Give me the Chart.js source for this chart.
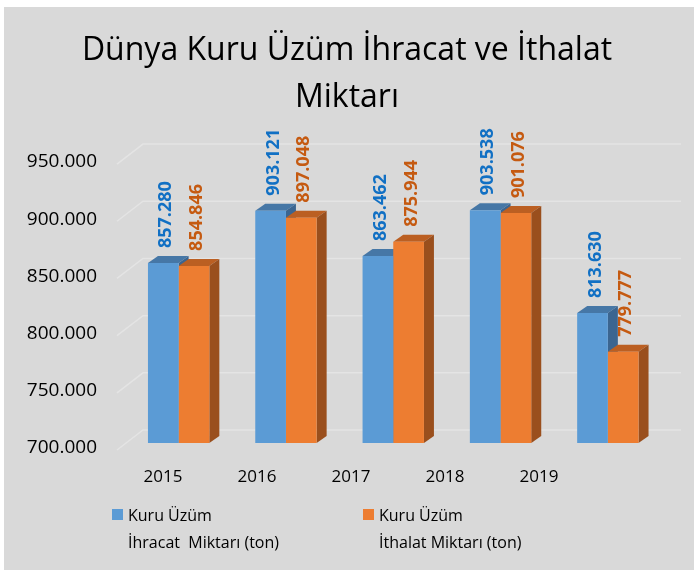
<!DOCTYPE html>
<html>
<head>
<meta charset="utf-8">
<script src="https://cdn.jsdelivr.net/npm/chart.js@4.4.1/dist/chart.umd.min.js"></script>
<style>
  html, body { margin: 0; padding: 0; background: #fff; }
  canvas { display: block; }
</style>
</head>
<body>
<canvas id="grafik" width="694" height="570"></canvas>
<script>
// Veriler
const yillar = ['2015', '2016', '2017', '2018', '2019'];
const ihracat = [857280, 903121, 863462, 903538, 813630];
const ithalat = [854846, 897048, 875944, 901076, 779777];
const eksenDegerleri = [700000, 750000, 800000, 850000, 900000, 950000];
const seriAdlari = [
    ['Kuru Üzüm', 'İhracat  Miktarı (ton)'],
    ['Kuru Üzüm', 'İthalat Miktarı (ton)']
];

const FONT = "'Open Sans', sans-serif";
const renkler = {
    on: ['#5b9bd5', '#ed7d31'],
    ust: ['#4677a6', '#bb5f22'],
    yan: ['#3b6590', '#9a4f1d'],
    yazi: ['#1170c4', '#c55a11']
};
const DX = 10, DY = 7;

function noktali(v) {
    return String(v).replace(/\B(?=(\d{3})+(?!\d))/g, '.');
}

// 3B görünüm: ızgara, üst ve yan yüzler, etiketler
const bar3d = {
    id: 'bar3d',
    beforeDraw(chart) {
        const ctx = chart.ctx;
        ctx.save();
        ctx.fillStyle = '#ffffff';
        ctx.fillRect(0, 0, chart.width, chart.height);
        ctx.fillStyle = '#d9d9d9';
        ctx.fillRect(4, 7, chart.width - 4, chart.height - 7);
        ctx.restore();
    },
    beforeDatasetsDraw(chart) {
        const ctx = chart.ctx;
        const y = chart.scales.y;
        const area = chart.chartArea;
        const taban = y.getPixelForValue(eksenDegerleri[0]);
        ctx.save();
        ctx.strokeStyle = '#e4e4e4';
        ctx.lineWidth = 1.5;
        eksenDegerleri.forEach(v => {
            const py = y.getPixelForValue(v);
            ctx.beginPath();
            ctx.moveTo(area.left - 8, py + 7);
            ctx.lineTo(area.left + 18, py - 13);
            ctx.lineTo(681, py - 13);
            ctx.stroke();
        });
        chart.data.datasets.forEach((ds, i) => {
            chart.getDatasetMeta(i).data.forEach(bar => {
                const l = bar.x - bar.width / 2, r = bar.x + bar.width / 2;
                const b = Math.min(bar.base, taban);
                ctx.fillStyle = renkler.ust[i];
                ctx.beginPath();
                ctx.moveTo(l, bar.y);
                ctx.lineTo(l + DX, bar.y - DY);
                ctx.lineTo(r + DX, bar.y - DY);
                ctx.lineTo(r, bar.y);
                ctx.closePath();
                ctx.fill();
                ctx.fillStyle = renkler.yan[i];
                ctx.beginPath();
                ctx.moveTo(r, bar.y);
                ctx.lineTo(r + DX, bar.y - DY);
                ctx.lineTo(r + DX, b - DY);
                ctx.lineTo(r, b);
                ctx.closePath();
                ctx.fill();
            });
        });
        ctx.restore();
    },
    afterDatasetsDraw(chart) {
        const ctx = chart.ctx;
        ctx.save();
        ctx.font = 'bold 18px ' + FONT;
        ctx.textAlign = 'left';
        ctx.textBaseline = 'middle';
        chart.data.datasets.forEach((ds, i) => {
            chart.getDatasetMeta(i).data.forEach((bar, j) => {
                ctx.save();
                ctx.translate(bar.x + 3, bar.y - 15);
                ctx.rotate(-Math.PI / 2);
                ctx.fillStyle = renkler.yazi[i];
                ctx.fillText(noktali(ds.data[j]), 0, 0);
                ctx.restore();
            });
        });
        ctx.restore();
    },
    afterDraw(chart) {
        const ctx = chart.ctx;
        const x = chart.scales.x;
        ctx.save();
        // yıl etiketleri (perspektifli ön kenar)
        ctx.font = '17px ' + FONT;
        ctx.fillStyle = '#000';
        ctx.textAlign = 'center';
        ctx.textBaseline = 'middle';
        yillar.forEach((yil, j) => {
            const px = 52 + (x.getPixelForValue(j) - 52) * 0.876;
            ctx.fillText(yil, px, 477);
        });
        // lejant
        ctx.font = '16px ' + FONT;
        ctx.textAlign = 'left';
        const lx = [112, 363];
        seriAdlari.forEach((satirlar, i) => {
            ctx.fillStyle = renkler.on[i];
            ctx.fillRect(lx[i], 509, 11, 11);
            ctx.fillStyle = '#000';
            satirlar.forEach((s, k) => ctx.fillText(s, lx[i] + 16, 516 + k * 27));
        });
        ctx.restore();
    }
};

function grafikOlustur() {
    new Chart(document.getElementById('grafik'), {
        type: 'bar',
        data: {
            labels: yillar,
            datasets: [{
                label: seriAdlari[0].join(' '),
                data: ihracat,
                backgroundColor: renkler.on[0]
            }, {
                label: seriAdlari[1].join(' '),
                data: ithalat,
                backgroundColor: renkler.on[1]
            }]
        },
        options: {
            responsive: false,
            animation: false,
            devicePixelRatio: 1,
            categoryPercentage: 0.572,
            barPercentage: 1,
            layout: { padding: { left: 0, right: 0, top: 0, bottom: 127 } },
            scales: {
                x: { display: false },
                y: {
                    min: eksenDegerleri[0],
                    max: eksenDegerleri[eksenDegerleri.length - 1],
                    grid: { display: false, drawTicks: false },
                    border: { display: false },
                    ticks: {
                        stepSize: 50000,
                        padding: 28,
                        labelOffset: 5,
                        color: '#000',
                        font: { family: FONT, size: 19 },
                        callback: v => noktali(v)
                    },
                    afterFit: s => { s.width = 125; }
                },
                sag: {
                    position: 'right',
                    grid: { display: false, drawTicks: false },
                    border: { display: false },
                    ticks: { display: false },
                    afterFit: s => { s.width = 32.5; }
                }
            },
            plugins: {
                legend: { display: false },
                tooltip: { enabled: false },
                title: {
                    display: true,
                    text: ['Dünya Kuru Üzüm İhracat ve İthalat', 'Miktarı'],
                    color: '#000',
                    font: { family: FONT, size: 32, weight: 'normal', lineHeight: 1.47 },
                    padding: { top: 27, bottom: 36 }
                }
            }
        },
        plugins: [bar3d]
    });
}

document.fonts.load('19px "Open Sans"').then(grafikOlustur, grafikOlustur);
</script>
</body>
</html>
